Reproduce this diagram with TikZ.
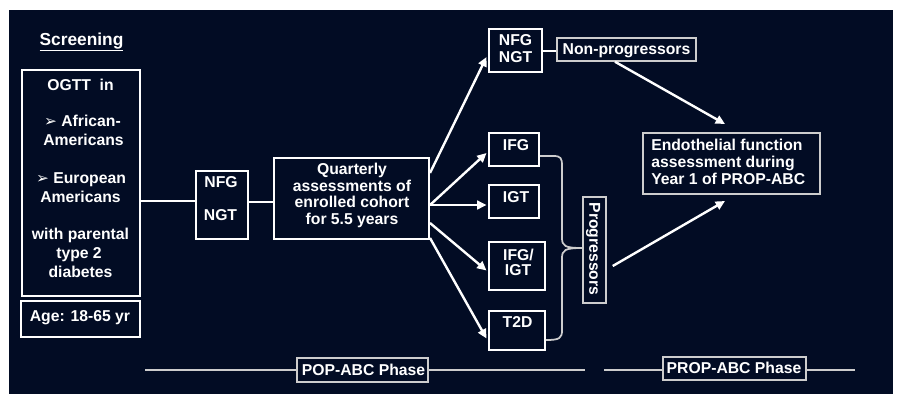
\documentclass[tikz,border=0pt]{standalone}
\usepackage{fontspec}
\setmainfont{Liberation Sans}
\newfontfamily\dejavu{DejaVu Sans}
\usetikzlibrary{fit,calc,arrows.meta}
\definecolor{navy}{RGB}{2,12,36}
\definecolor{lgray}{RGB}{205,205,205}
\begin{document}
\begin{tikzpicture}[x=0.75pt,y=-0.75pt,
  box/.style={draw=white,line width=1.5pt,inner sep=0pt},
  tbox/.style={draw=lgray,line width=1.1pt,inner sep=0pt},
  txt/.style={text=white,font=\bfseries\fontsize{11.8}{12.5}\selectfont,inner sep=0pt},
  txtl/.style={txt,text height=8.5pt,text depth=0pt},
  ln/.style={draw=white,line width=1.5pt},
  gln/.style={draw=lgray,line width=1.5pt},
  arr/.style={draw=white,line width=1.8pt,-{Triangle[length=7pt,width=6.5pt]}},
]
\useasboundingbox (0,0) rectangle (898,394);
\fill[white] (0,0) rectangle (898,394);
\fill[navy] (9,10) rectangle (893,394);

% boxes
\node[box,fit={(22,70)(140,296)}] (ogtt) {};
\node[box,fit={(21,301)(140,337)}] (age) {};
\node[box,fit={(196,171)(248,239)}] (nfg) {};
\node[box,fit={(274,158)(429,239)}] (quart) {};
\node[box,fit={(489,29)(542,72)}] (nfgt) {};
\node[tbox,fit={(557,38)(696,61)}] (nonp) {};
\node[box,fit={(489,133)(539,166)}] (ifg) {};
\node[box,fit={(489,185)(539,218)}] (igt) {};
\node[box,fit={(489,242)(545,290)}] (ifgigt) {};
\node[box,fit={(489,311)(545,350)}] (t2d) {};
\node[tbox,fit={(583,197)(606,303)}] (prog) {};
\node[box,draw=lgray,fit={(643,133)(820,194)}] (endo) {};
\node[tbox,fit={(297,358)(428,382)}] (pop) {};
\node[tbox,fit={(663,357)(806,380)}] (prop) {};

% texts
\node[txt,font=\bfseries\fontsize{13}{15}\selectfont,text height=9.3pt,text depth=0pt] (scr) at (81.5,39) {\underline{Screening}};
\node[txtl] (o1) at (80.5,85) {OGTT\ \ in};
\node[txtl] (o2) at (82.5,121) {{\dejavu\mdseries\fontsize{11.5}{12}\selectfont ➢}\ African-};
\node[txtl] (o3) at (83.5,140) {Americans};
\node[txtl] (o4) at (81,178) {{\dejavu\mdseries\fontsize{11.5}{12}\selectfont ➢}\ European};
\node[txtl] (o5) at (80.5,196.5) {Americans};
\node[txtl] (o6) at (80.5,234) {with parental};
\node[txtl] (o7) at (79,252.5) {type 2};
\node[txtl] (o8) at (80.5,271.5) {diabetes};
\node[txtl] (agetxt) at (80,316) {Age: 18-65 yr};
\node[txtl] (nfg1) at (221,182) {NFG};
\node[txtl] (nfg2) at (220.5,215) {NGT};
\node[txt,align=center] (qtxt) at (352,195.5) {Quarterly\\assessments of\\enrolled cohort\\for 5.5 years};
\node[txtl] (nt1) at (515.5,40) {NFG};
\node[txtl] (nt2) at (515.5,57) {NGT};
\node[txtl] (nptxt) at (626.5,48.5) {Non-progressors};
\node[txtl] (ifgtxt) at (516,145) {IFG};
\node[txtl] (igttxt) at (516,197) {IGT};
\node[txtl] (ii1) at (518.5,255) {IFG/};
\node[txtl] (ii2) at (518,270) {IGT};
\node[txtl] (t2dtxt) at (517.5,322) {T2D};
\node[txtl,rotate=-90] (progtxt) at (595,249) {Progressors};
\node[txt,align=left,anchor=west] (endotxt) at (651,162) {Endothelial function\\assessment during\\Year 1 of PROP-ABC};
\node[txtl] (poptxt) at (363.5,369.5) {POP-ABC Phase};
\node[txtl] (proptxt) at (734,368) {PROP-ABC Phase};

% connectors
\coordinate (c1) at (0,201);
\draw[ln] (ogtt.east |- c1) -- (nfg.west |- c1);
\coordinate (c2) at (0,202);
\draw[ln] (nfg.east |- c2) -- (quart.west |- c2);
\draw[ln] (nfgt.east) -- (nonp.west |- nfgt.east);

% fan arrows
\coordinate (s1) at (430,173);
\coordinate (s2) at (430,205);
\coordinate (s3) at (430,223);
\coordinate (s4) at (430,238);
\draw[arr] (s1) -- ($(nfgt.west)+(-1.5,6.5)$);
\draw[arr] (s2) -- ($(ifg.west)+(-1.5,3.5)$);
\draw[arr] (s2) -- ($(igt.west)+(-1.5,3.5)$);
\draw[arr] (s3) -- ($(ifgigt.west)+(-1.5,4.5)$);
\draw[arr] (s4) -- ($(t2d.west)+(-1.5,8)$);

% brace
\draw[ln,line width=1.3pt,draw=lgray] (ifg.east |- 0,156) -- (553,156)
  .. controls (561,156) and (562,158) .. (562,166) -- (562,238)
  .. controls (562,246) and (565,248) .. (prog.west |- 0,248)
  .. controls (565,248) and (562,250) .. (562,258) -- (562,330)
  .. controls (562,338) and (560,340) .. (t2d.east |- 0,340);

% arrows to endothelial
\draw[arr] ($(nonp.south)+(-11.5,0)$) -- ($(endo.north)+(-6.5,-8)$);
\draw[arr] ($(prog.east)+(6,16)$) -- ($(endo.south)+(-6.5,6)$);

% phase lines
\coordinate (p1) at (145,370);
\coordinate (p2) at (585,370);
\coordinate (p3) at (604,370);
\coordinate (p4) at (855,370);
\draw[gln] (p1) -- (pop.west |- p1);
\draw[gln] (pop.east |- p2) -- (p2);
\draw[gln] (p3) -- (prop.west |- p3);
\draw[gln] (prop.east |- p4) -- (p4);
\end{tikzpicture}
\end{document}
